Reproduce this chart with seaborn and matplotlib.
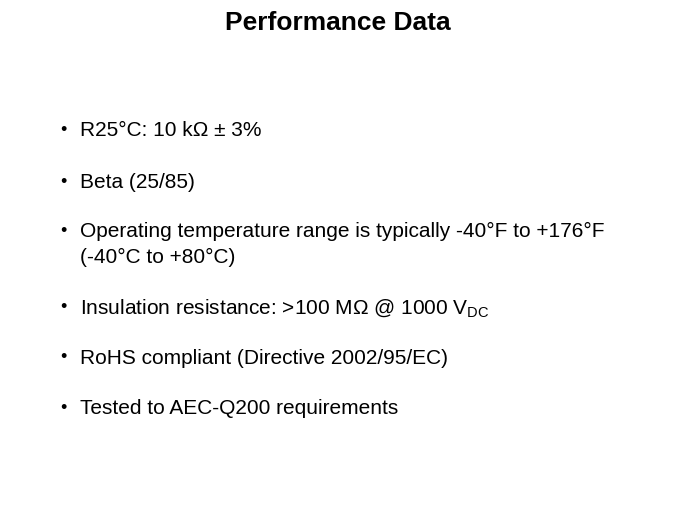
import matplotlib
matplotlib.use("Agg")
import matplotlib.pyplot as plt
import seaborn as sns

title = "Performance Data"
bullets = [
    ["R25°C: 10 kΩ ± 3%"],
    ["Beta (25/85)"],
    ["Operating temperature range is typically -40°F to +176°F", "(-40°C to +80°C)"],
    [r"Insulation resistance: >100 MΩ @ 1000 V$_{\mathrm{DC}}$"],
    ["RoHS compliant (Directive 2002/95/EC)"],
    ["Tested to AEC-Q200 requirements"],
]
bullet_y = [130, 182, 231, 308, 358, 409]  # pixel rows of first line

sns.set_theme(style="white")
plt.rcParams["font.family"] = ["Liberation Sans", "DejaVu Sans"]
plt.rcParams["mathtext.fontset"] = "custom"
plt.rcParams["mathtext.rm"] = "Liberation Sans"
plt.rcParams["mathtext.it"] = "Liberation Sans"

W, H = 675, 506
fig = plt.figure(figsize=(6.75, 5.06), dpi=100)
ax = fig.add_axes([0, 0, 1, 1])
ax.set_xlim(0, W)
ax.set_ylim(H, 0)
ax.axis("off")

ax.text(338, 23, title, ha="center", va="center", fontsize=19, fontweight="bold", color="black")

for lines, y in zip(bullets, bullet_y):
    ax.text(60, y, "•", ha="left", va="center", fontsize=13, color="black")
    for i, line in enumerate(lines):
        ax.text(80, y + i * 26, line, ha="left", va="center", fontsize=15, color="black")

fig.savefig("out.png", dpi=100, facecolor="white")
